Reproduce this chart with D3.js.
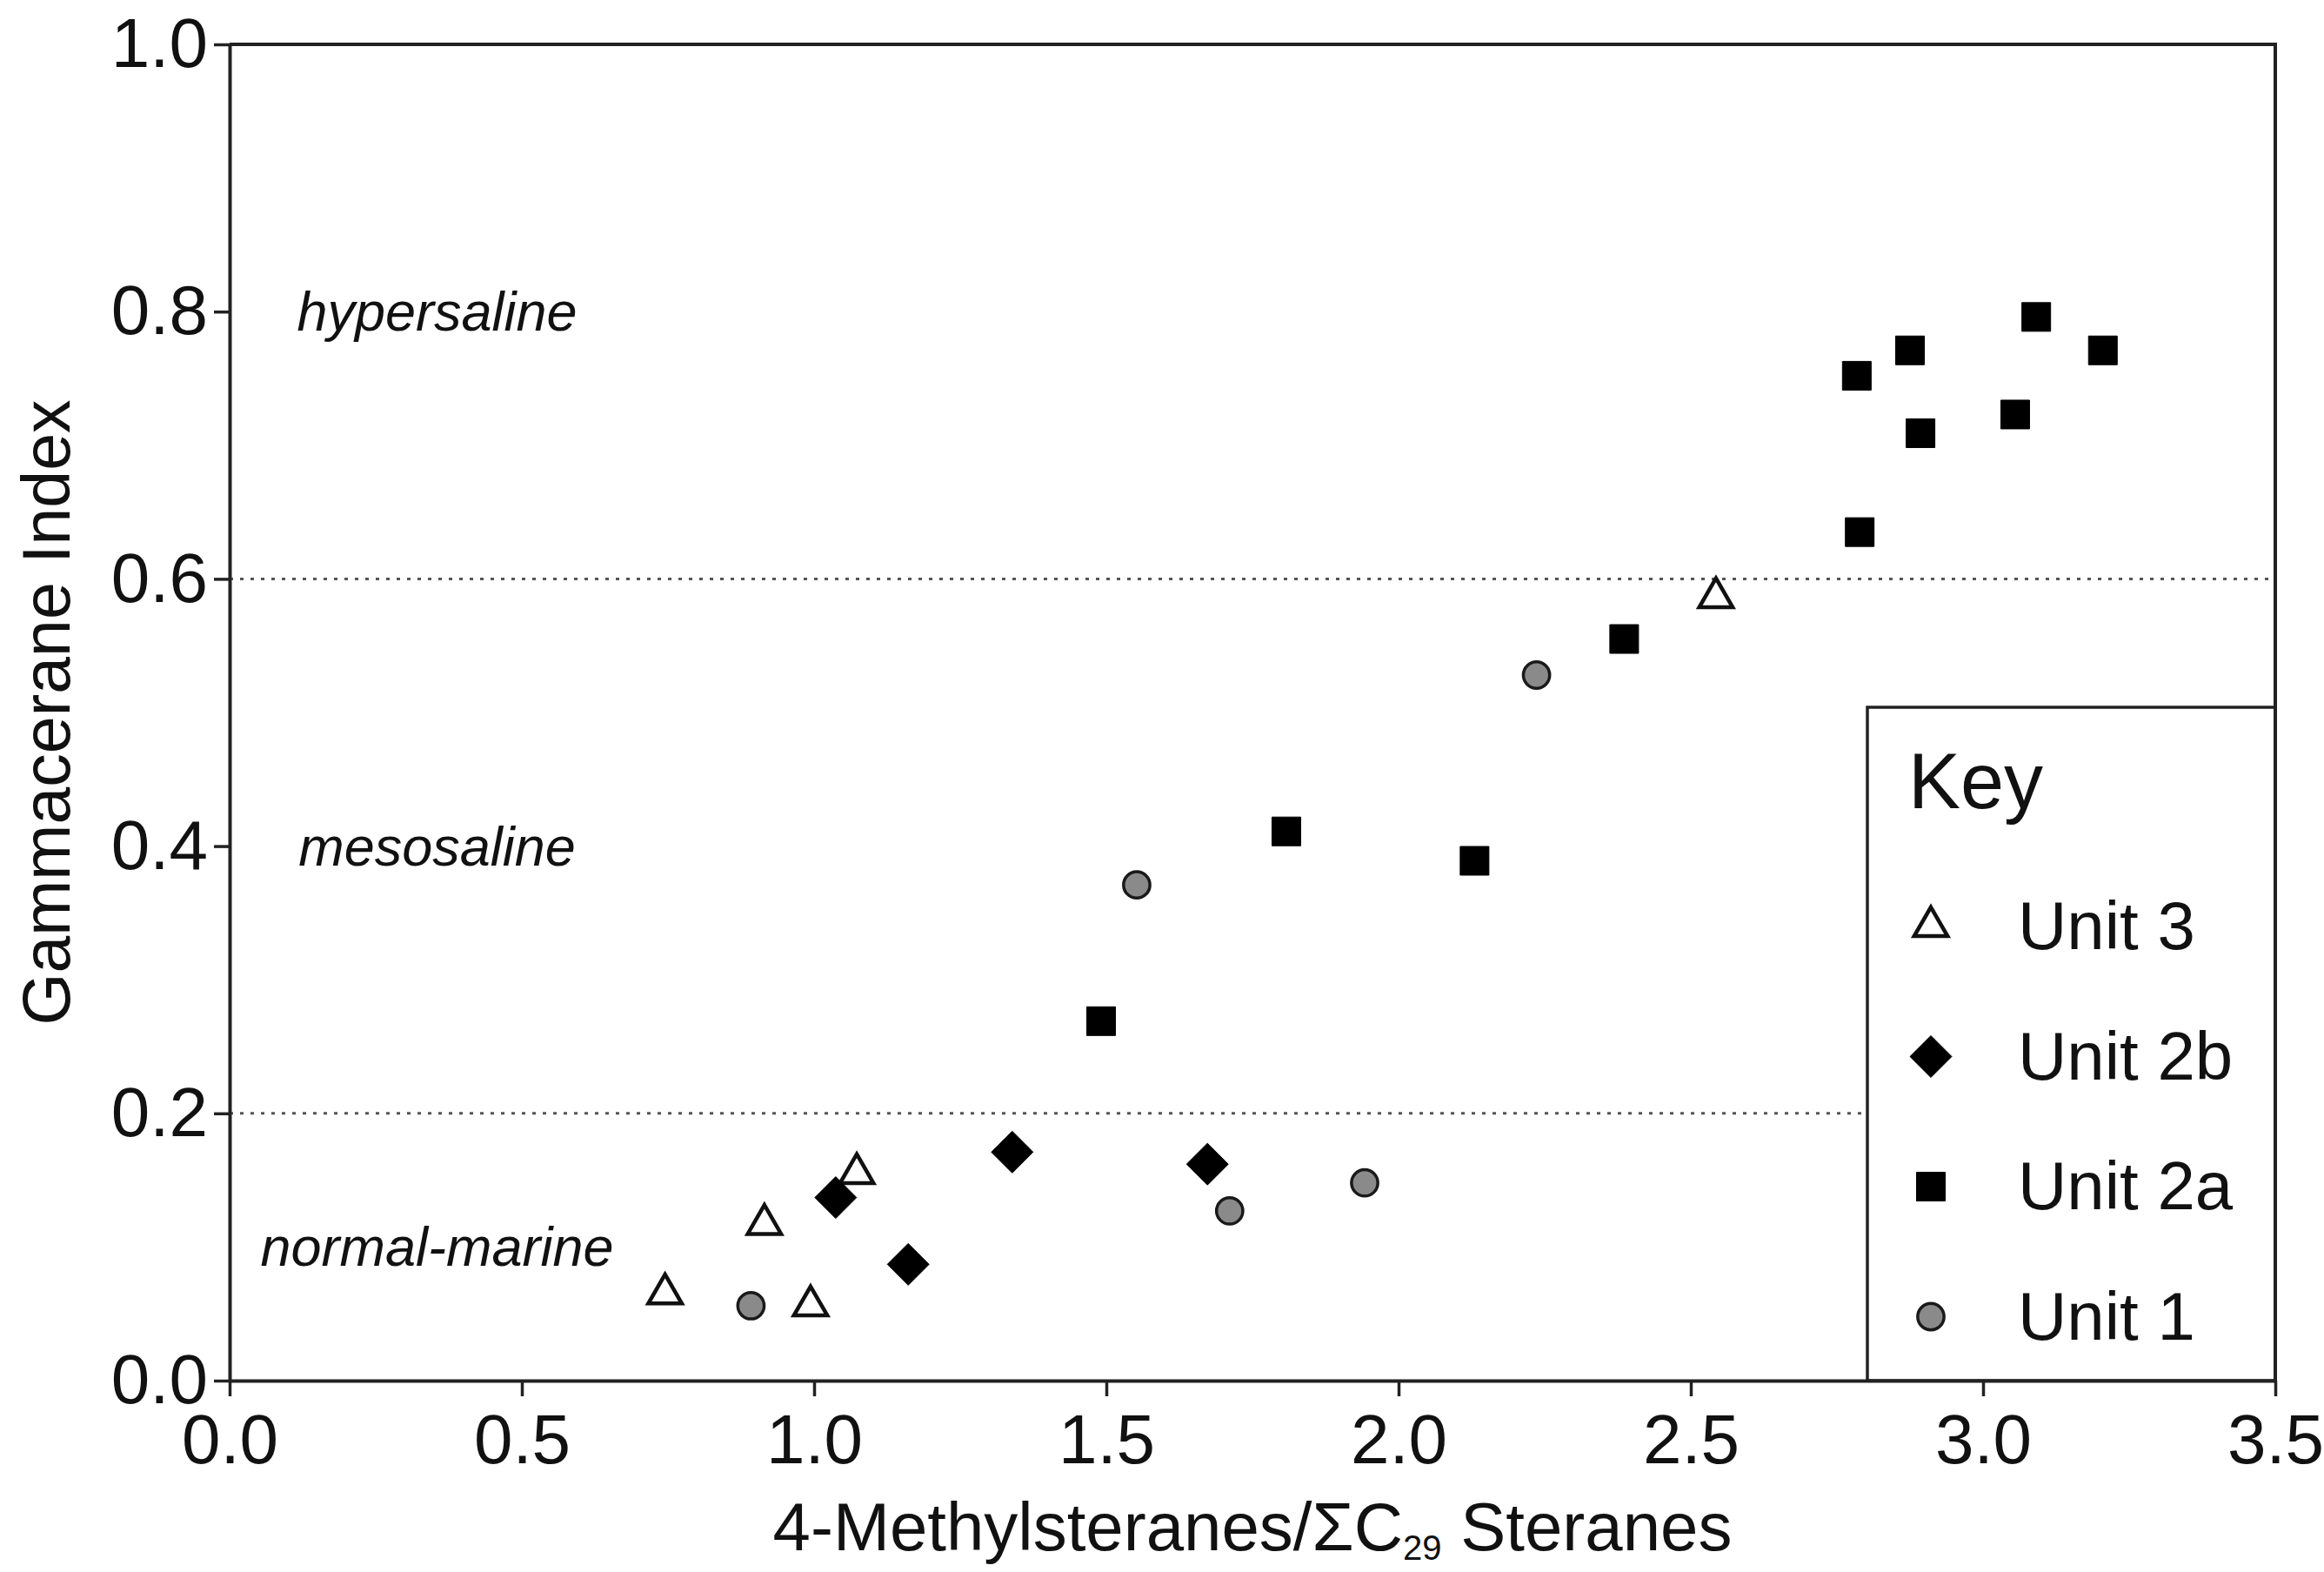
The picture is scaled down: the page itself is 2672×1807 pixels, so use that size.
<!DOCTYPE html>
<html>
<head>
<meta charset="utf-8">
<script src="https://cdn.jsdelivr.net/npm/d3@7"></script>
<style>
  body { margin: 0; background: #fff; }
  text { font-family: "Liberation Sans", Arial, Helvetica, sans-serif; fill: #111; }
</style>
</head>
<body>
<div id="chart"></div>
<script>
// values
var unit3X  = [0.745, 0.915, 0.994, 1.073, 2.543];
var unit3Y  = [0.065, 0.117, 0.056, 0.155, 0.586];

var unit2bX = [1.037, 1.161, 1.339, 1.673];
var unit2bY = [0.137, 0.087, 0.171, 0.162];

var unit2aX = [1.491, 1.808, 2.130, 2.386, 2.789, 2.784, 2.875, 2.893, 3.055, 3.091, 3.205];
var unit2aY = [0.269, 0.411, 0.389, 0.555, 0.635, 0.752, 0.771, 0.709, 0.723, 0.796, 0.771];

var unit1X  = [0.892, 1.552, 1.711, 1.942, 2.236];
var unit1Y  = [0.056, 0.371, 0.127, 0.148, 0.528];

var seriesNames = ["Unit 3", "Unit 2b", "Unit 2a", "Unit 1"];
var xTicks = [0.0, 0.5, 1.0, 1.5, 2.0, 2.5, 3.0, 3.5];
var yTicks = [0.0, 0.2, 0.4, 0.6, 0.8, 1.0];
var boundaries = [0.2, 0.6];                       // dotted salinity limits
var zoneNames = ["normal-marine", "mesosaline", "hypersaline"];
var zoneY = [0.1, 0.4, 0.8];
var zoneX = 0.355;

// dimensions
var W = 2672, H = 1807;
var margin = {top: 51, right: 56, bottom: 220, left: 264},
    width = W - margin.left - margin.right,
    height = H - margin.top - margin.bottom;

var x = d3.scaleLinear().domain([0, 3.5]).range([0, width]);
var y = d3.scaleLinear().domain([0, 1.0]).range([height, 0]);

var svg = d3.select("#chart").append("svg")
    .attr("width", W)
    .attr("height", H)
  .append("g")
    .attr("transform", "translate(" + margin.left + "," + margin.top + ")");

// marker styles
var diamond = {
  draw: function(ctx, size) {
    var r = Math.sqrt(size / 2);
    ctx.moveTo(0, -r); ctx.lineTo(r, 0); ctx.lineTo(0, r); ctx.lineTo(-r, 0); ctx.closePath();
  }
};
var styles = [
  {sym: d3.symbolTriangle, size: 640,  fill: "#fff",    stroke: "#111", sw: 4.5},
  {sym: diamond,           size: 1150, fill: "#000",    stroke: "#000", sw: 1},
  {sym: d3.symbolSquare,   size: 1090, fill: "#000",    stroke: "#000", sw: 1},
  {sym: d3.symbolCircle,   size: 720,  fill: "#8a8a8a", stroke: "#1a1a1a", sw: 3.5}
];

var series = [
  {xs: unit3X,  ys: unit3Y},
  {xs: unit2bX, ys: unit2bY},
  {xs: unit2aX, ys: unit2aY},
  {xs: unit1X,  ys: unit1Y}
];

// dotted boundary lines
svg.selectAll(".bound")
    .data(boundaries)
    .enter().append("line")
    .attr("x1", 0)
    .attr("x2", x(3.5))
    .attr("y1", function(d) { return y(d); })
    .attr("y2", function(d) { return y(d); })
    .style("stroke", "#555")
    .style("stroke-width", 3)
    .style("stroke-dasharray", "4,8");

// zone labels
svg.selectAll(".zone")
    .data(zoneNames)
    .enter().append("text")
    .attr("x", x(zoneX))
    .attr("y", function(d, i) { return y(zoneY[i]); })
    .attr("dy", "0.35em")
    .style("text-anchor", "middle")
    .style("font-style", "italic")
    .style("font-size", "63px")
    .text(function(d) { return d; });

// points
series.forEach(function(s, i) {
  var st = styles[i];
  var pts = s.xs.map(function(v, j) { return {x: v, y: s.ys[j]}; });
  svg.selectAll(".pt" + i)
      .data(pts)
      .enter().append("path")
      .attr("d", d3.symbol().type(st.sym).size(st.size))
      .attr("transform", function(d) { return "translate(" + x(d.x) + "," + y(d.y) + ")"; })
      .style("fill", st.fill)
      .style("stroke", st.stroke)
      .style("stroke-width", st.sw)
      .style("stroke-linejoin", "miter");
});

// legend
var lg = svg.append("g").attr("transform", "translate(" + (2147 - margin.left) + "," + (813 - margin.top) + ")");
lg.append("rect")
    .attr("width", x(3.5) - (2147 - margin.left))
    .attr("height", height - (813 - margin.top))
    .style("fill", "#fff")
    .style("stroke", "#222")
    .style("stroke-width", 3.5);
lg.append("text")
    .attr("x", 47)
    .attr("y", 116)
    .style("font-size", "90px")
    .text("Key");
var items = lg.selectAll(".item")
    .data(seriesNames)
    .enter().append("g")
    .attr("transform", function(d, i) { return "translate(0," + (278 + i * 149.5) + ")"; });
items.append("path")
    .attr("d", function(d, i) { return d3.symbol().type(styles[i].sym).size(styles[i].size)(); })
    .attr("transform", "translate(73,-26)")
    .style("fill", function(d, i) { return styles[i].fill; })
    .style("stroke", function(d, i) { return styles[i].stroke; })
    .style("stroke-width", function(d, i) { return styles[i].sw; });
items.append("text")
    .attr("x", 173)
    .style("font-size", "78px")
    .text(function(d) { return d; });

// axes
var xAxis = svg.append("g")
    .attr("transform", "translate(0," + height + ")")
    .call(d3.axisBottom(x).tickValues(xTicks).tickSize(18).tickSizeOuter(0).tickPadding(20)
      .tickFormat(d3.format(".1f")));
var yAxis = svg.append("g")
    .call(d3.axisLeft(y).tickValues(yTicks).tickSize(18).tickSizeOuter(0).tickPadding(7)
      .tickFormat(d3.format(".1f")));
[xAxis, yAxis].forEach(function(a) {
  a.selectAll("text").style("font-size", "80px").style("font-family", "\"Liberation Sans\", Arial, sans-serif").style("fill", "#111");
  a.selectAll("line").style("stroke", "#222").style("stroke-width", 3.5);
  a.select(".domain").style("stroke", "#222").style("stroke-width", 4);
});

// top and right frame
svg.append("path")
    .attr("d", "M0,0H" + x(3.5) + "V" + height)
    .style("fill", "none")
    .style("stroke", "#222")
    .style("stroke-width", 4);

// axis titles
var xt = svg.append("text")
    .attr("x", width / 2)
    .attr("y", 1782 - margin.top)
    .style("text-anchor", "middle")
    .style("font-size", "78px");
xt.append("tspan").text("4-Methylsteranes/\u03A3C");
xt.append("tspan").attr("dy", 11).style("font-size", "40px").text("29");
xt.append("tspan").attr("dy", -11).text(" Steranes");

svg.append("text")
    .attr("transform", "translate(" + (80 - margin.left) + "," + (height / 2) + ") rotate(-90)")
    .style("text-anchor", "middle")
    .style("font-size", "77px")
    .text("Gammacerane Index");
</script>
</body>
</html>
